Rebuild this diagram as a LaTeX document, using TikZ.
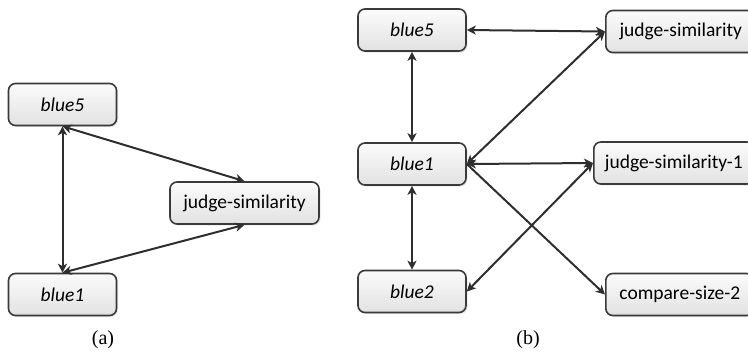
\documentclass[tikz,border=0pt]{standalone}
\usepackage{fontspec}
\setmainfont{Liberation Serif}
\newfontfamily\boxfont{Carlito}
\usepackage{tikz}
\usetikzlibrary{positioning, arrows.meta, shapes, shadows}
\definecolor{boxline}{HTML}{3A3A3A}
\definecolor{boxtop}{HTML}{FBFBFB}
\definecolor{boxbottom}{HTML}{E2E2E2}
\definecolor{edgegray}{HTML}{2E2E2E}
\tikzstyle{chunk} = [rectangle, rounded corners=7pt, minimum height=42pt, text centered, draw=boxline, line width=1.6pt, top color=boxtop, bottom color=boxbottom, drop shadow={opacity=0.2, shadow xshift=1.5pt, shadow yshift=-1.5pt}, font=\boxfont\fontsize{19.5}{22}\selectfont]
\tikzstyle{var} = [chunk, minimum width=108pt, font=\boxfont\itshape\fontsize{19.5}{22}\selectfont]
\tikzstyle{arrow} = [line width=2pt, draw=edgegray, {Stealth[length=9pt,width=9pt,inset=2.5pt]}-{Stealth[length=9pt,width=9pt,inset=2.5pt]}]
\tikzstyle{oneway} = [line width=2pt, draw=edgegray, -{Stealth[length=9pt,width=9pt,inset=2.5pt]}]
\tikzstyle{caption} = [font=\fontsize{20}{23}\selectfont]

\begin{document}
\begin{tikzpicture}[x=1pt, y=-1pt]
            \useasboundingbox (0,0) rectangle (748,360);
            \clip (0,0) rectangle (748,360);

            % (a)
            \node (a_blue5) [var] at (62.5,104.5) {blue5};
            \node (a_blue1) [var] at (62.5,294.5) {blue1};
            \node (a_judge) [chunk, minimum width=149pt] at (244.5,203) {judge-similarity};

            \draw [arrow] (a_blue5.south) -- (a_blue1.north);
            \draw [arrow] (a_blue5.south) -- (a_judge.north);
            \draw [arrow] (a_blue1.north) -- (a_judge.south);

            % (b)
            \node (b_blue5) [var] at (412,30) {blue5};
            \node (b_blue1) [var] at (412,164) {blue1};
            \node (b_blue2) [var] at (412,291.5) {blue2};
            \node (b_judge) [chunk, minimum width=150pt, anchor=west] at (605,31.5) {judge-similarity};
            \node (b_judge1) [chunk, minimum width=160pt, anchor=west] at (593,163) {judge-similarity-1};
            \node (b_compare) [chunk, minimum width=148pt, anchor=west] at (605,294.5) {compare-size-2};

            \draw [arrow] (b_blue5.east) -- (b_judge.west);
            \draw [arrow] (b_blue5.south) -- (b_blue1.north);
            \draw [arrow] (b_blue1.south) -- (b_blue2.north);
            \draw [arrow] (b_blue1.east) -- (b_judge.west);
            \draw [arrow] (b_blue1.east) -- (b_judge1.west);
            \draw [oneway] (b_blue1.east) -- (b_compare.west);
            \draw [arrow] (b_blue2.east) -- (b_judge1.west);

            \node (cap_a) [caption] at (103,340) {(a)};
            \node (cap_b) [caption] at (528,340) {(b)};

\end{tikzpicture}
\end{document}
